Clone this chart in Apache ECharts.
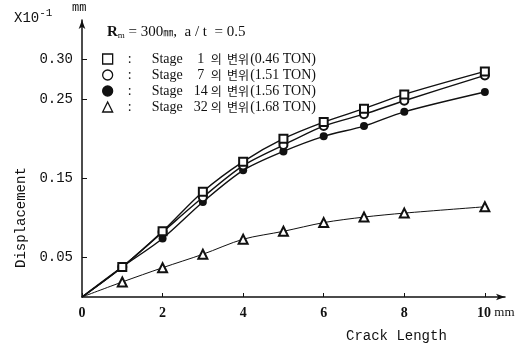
<!DOCTYPE html>
<html>
<head>
<meta charset="utf-8">
<script src="https://cdn.jsdelivr.net/npm/echarts@6/dist/echarts.min.js"></script>
<style>
  html, body { margin: 0; padding: 0; background: #fff; }
  #chart { width: 519px; height: 349px; }
</style>
</head>
<body>
<div id="chart"></div>
<script>
// crack length (mm)
const crackLength = [0, 1, 2, 3, 4, 5, 6, 7, 8, 10];
// displacement (x10^-1 mm)
const stage1 = [0, 0.038, 0.083, 0.133, 0.171, 0.200, 0.221, 0.238, 0.256, 0.285];
const stage7 = [0, 0.038, 0.082, 0.126, 0.166, 0.192, 0.216, 0.231, 0.248, 0.280];
const stage14 = [0, 0.038, 0.074, 0.120, 0.160, 0.184, 0.203, 0.216, 0.234, 0.259];
const stage32 = [0, 0.019, 0.037, 0.054, 0.073, 0.083, 0.094, 0.101, 0.106, 0.114];

const stageNo = ['1', '7', '14', '32'];
const stageLoad = ['0.46', '1.51', '1.56', '1.68'];
const seriesNames = stageNo.map((n, i) => `Stage ${n}의 변위(${stageLoad[i]} TON)`);

const yTicks = [0.05, 0.15, 0.25, 0.30];
const xTicks = [0, 2, 4, 6, 8, 10];

const chart = echarts.init(document.getElementById('chart'));

const toPoints = (vals) => vals.map((v, i) => (
    i === 0 ? { value: [crackLength[i], v], symbol: 'none' } : [crackLength[i], v]
));

const symbols = ['emptyRect', 'emptyCircle', 'circle', 'emptyTriangle'];
const legendIcons = ['rect', 'circle', 'circle', 'triangle'];
const allValues = [stage1, stage7, stage14, stage32];

const seriesConfig = allValues.map((vals, i) => ({
    name: seriesNames[i],
    type: 'line',
    data: toPoints(vals),
    smooth: 0.3,
    symbol: symbols[i],
    symbolSize: i === 3 ? 9 : 8,
    showAllSymbol: true,
    lineStyle: { color: '#111', width: i === 3 ? 1 : 1.4 },
    itemStyle: { color: '#111', borderWidth: 1.2 },
    z: 10 - i
}));

const serif = '"Liberation Serif", "Noto Sans CJK KR", serif';
const mono = '"Liberation Mono", "DejaVu Sans Mono", monospace';

const option = {
    backgroundColor: '#fff',
    animation: false,
    grid: { left: 82, right: 14, top: 20, bottom: 52 },
    xAxis: {
        type: 'value',
        min: 0,
        max: 10.5,
        interval: 2,
        splitLine: { show: false },
        axisLine: { lineStyle: { color: '#111', width: 1.5 }, symbol: ['none', 'arrow'], symbolSize: [5, 9] },
        axisTick: { inside: true, length: 4, lineStyle: { color: '#111' }, customValues: xTicks },
        axisLabel: {
            customValues: xTicks,
            margin: 9,
            color: '#111',
            fontFamily: serif,
            fontSize: 14,
            fontWeight: 'bold',
            formatter: (v) => v === 10 ? '{p|}10{u| mm}' : String(v),
            rich: {
                p: { width: 22 },
                u: { fontFamily: serif, fontSize: 13, color: '#111', fontWeight: 'normal' }
            }
        }
    },
    yAxis: {
        type: 'value',
        min: 0,
        max: 0.35,
        interval: 0.05,
        splitLine: { show: false },
        axisLine: { lineStyle: { color: '#111', width: 1.5 }, symbol: ['none', 'arrow'], symbolSize: [5, 9] },
        axisTick: { inside: true, length: 5, lineStyle: { color: '#111' }, customValues: yTicks },
        axisLabel: {
            customValues: yTicks,
            margin: 9,
            color: '#111',
            fontFamily: mono,
            fontSize: 14,
            formatter: (v) => v.toFixed(2)
        }
    },
    legend: {
        orient: 'vertical',
        left: 97,
        top: 47,
        itemWidth: 10,
        itemHeight: 10,
        itemGap: 2,
        selectedMode: false,
        data: seriesNames.map((name, i) => ({
            name,
            icon: legendIcons[i],
            itemStyle: {
                color: i === 2 ? '#111' : '#fff',
                borderColor: '#111',
                borderWidth: 1.3
            }
        })),
        formatter: (name) => {
            const i = seriesNames.indexOf(name);
            return `{c|:}{s|Stage}{n|${stageNo[i]}}{k|의  변위}{t|(${stageLoad[i]} TON)}`;
        },
        textStyle: {
            color: '#111',
            fontFamily: serif,
            fontSize: 13,
            lineHeight: 14,
            rich: {
                c: { width: 24, padding: [0, 0, 0, 10], fontFamily: serif, fontSize: 14, color: '#111' },
                s: { width: 42, fontFamily: serif, fontSize: 14, color: '#111' },
                n: { width: 14, align: 'right', fontFamily: serif, fontSize: 14, color: '#111' },
                k: { padding: [0, 0, 0, 3], fontFamily: '"Noto Sans CJK KR", sans-serif', fontSize: 12, color: '#111' },
                t: { fontFamily: serif, fontSize: 14, color: '#111', padding: [0, 0, 0, 1] }
            }
        }
    },
    graphic: [
        {
            type: 'text',
            left: 14,
            top: 8,
            style: {
                text: 'X10{sup|-1}',
                fontFamily: mono,
                fontSize: 14,
                fill: '#111',
                rich: { sup: { fontFamily: mono, fontSize: 11, padding: [0, 0, 10, 0], fill: '#111' } }
            }
        },
        {
            type: 'text',
            left: 72,
            top: 2,
            style: { text: 'mm', fontFamily: mono, fontSize: 12, fill: '#111' }
        },
        {
            type: 'text',
            left: 107,
            top: 25,
            style: {
                text: '{r|R}{m|m}{e| = 300}{mm|㎜}{e|,  a / t  = 0.5}',
                fill: '#111',
                rich: {
                    r: { fontFamily: serif, fontSize: 15, fontWeight: 'bold', fill: '#111' },
                    m: { fontFamily: serif, fontSize: 9, padding: [6, 0, 0, 0], fill: '#111' },
                    e: { fontFamily: serif, fontSize: 15, fill: '#111' },
                    mm: { fontFamily: '"Noto Sans CJK KR", sans-serif', fontSize: 10, fill: '#111' }
                }
            }
        },
        {
            type: 'text',
            left: 346,
            top: 329,
            style: { text: 'Crack Length', fontFamily: mono, fontSize: 14, fill: '#111' }
        },
        {
            type: 'text',
            x: 14,
            y: 268,
            rotation: Math.PI / 2,
            style: { text: 'Displacement', fontFamily: mono, fontSize: 14, fill: '#111' }
        }
    ],
    series: seriesConfig
};

chart.setOption(option, true);
</script>
</body>
</html>
